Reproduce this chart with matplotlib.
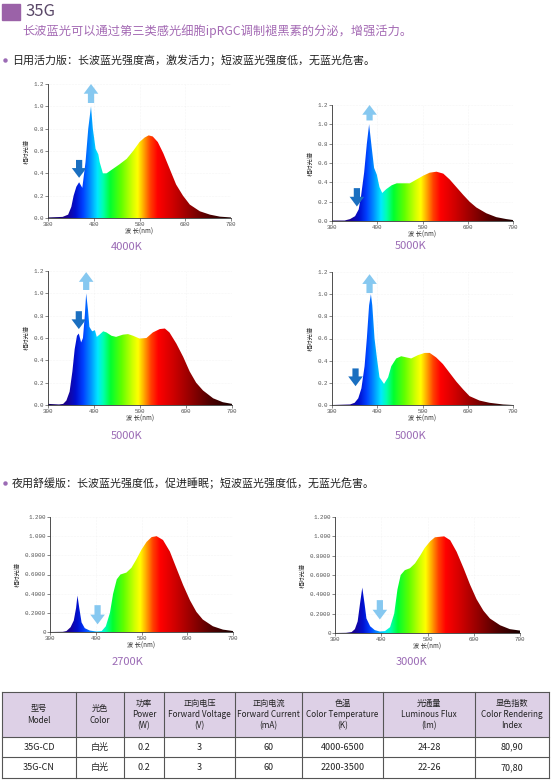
import numpy as np
import matplotlib
matplotlib.use("Agg")
import matplotlib.pyplot as plt
from matplotlib.colors import LinearSegmentedColormap
from matplotlib.patches import Polygon, Rectangle, FancyArrowPatch, ArrowStyle

plt.rcParams['font.family'] = ['Noto Sans CJK SC', 'DejaVu Sans']

# ---- spectra (wavelength nm, relative intensity) ----
wl_4000 = [380, 412, 424, 431, 436, 442, 448, 455, 462, 468, 474, 478, 484, 490, 493, 500,
           508, 522, 536, 552, 566, 580, 591, 600, 609, 620, 632, 646, 660, 675, 690, 712,
           734, 756, 780]
sp_4000 = [0.005, 0.01, 0.03, 0.10, 0.20, 0.28, 0.32, 0.27, 0.50, 0.80, 1.00, 0.80, 0.62,
           0.57, 0.50, 0.40, 0.40, 0.44, 0.48, 0.53, 0.60, 0.68, 0.72, 0.74, 0.73, 0.68, 0.58,
           0.44, 0.30, 0.20, 0.12, 0.06, 0.03, 0.012, 0.005]

wl_5000a = [300, 328, 340, 351, 359, 364, 371, 377, 382, 388, 393, 399, 405, 411, 420, 432,
            443, 458, 472, 487, 502, 516, 531, 546, 560, 575, 590, 604, 619, 641, 663, 685, 700]
sp_5000a = [0.005, 0.005, 0.02, 0.05, 0.12, 0.25, 0.50, 0.80, 1.00, 0.75, 0.55, 0.48, 0.35,
            0.29, 0.33, 0.37, 0.39, 0.39, 0.39, 0.43, 0.47, 0.50, 0.51, 0.49, 0.43, 0.35, 0.27,
            0.20, 0.14, 0.08, 0.04, 0.02, 0.01]

wl_5000b = [300, 324, 333, 340, 347, 353, 358, 363, 367, 372, 376, 380, 383, 387, 390, 396,
            402, 406, 412, 420, 427, 438, 448, 463, 474, 485, 499, 514, 528, 543, 554, 564,
            579, 594, 608, 622, 637, 659, 680, 700]
sp_5000b = [0.01, 0.005, 0.01, 0.04, 0.12, 0.30, 0.50, 0.62, 0.64, 0.56, 0.60, 0.80, 1.00,
            0.85, 0.70, 0.66, 0.67, 0.61, 0.63, 0.66, 0.65, 0.62, 0.61, 0.63, 0.635, 0.62,
            0.595, 0.60, 0.65, 0.68, 0.685, 0.65, 0.55, 0.43, 0.30, 0.20, 0.13, 0.06, 0.025, 0.01]

wl_5000c = [300, 340, 350, 358, 365, 372, 377, 382, 386, 389, 394, 400, 405, 415, 424, 431,
            442, 453, 464, 475, 490, 505, 516, 530, 545, 560, 575, 590, 604, 626, 648, 678, 700]
sp_5000c = [0.0, 0.005, 0.02, 0.06, 0.15, 0.35, 0.60, 0.90, 1.00, 0.90, 0.60, 0.40, 0.25,
            0.19, 0.25, 0.35, 0.42, 0.44, 0.43, 0.42, 0.45, 0.47, 0.47, 0.43, 0.37, 0.29, 0.21,
            0.14, 0.08, 0.04, 0.02, 0.005, 0.0]

wl_2700 = [300, 328, 336, 345, 352, 357, 360, 364, 369, 376, 387, 402, 413, 422, 431, 438,
           446, 454, 467, 478, 489, 500, 511, 522, 533, 547, 562, 576, 591, 606, 620, 634,
           656, 678, 700]
sp_2700 = [0.0, 0.002, 0.01, 0.05, 0.12, 0.25, 0.38, 0.25, 0.10, 0.04, 0.015, 0.005, 0.01,
           0.06, 0.20, 0.40, 0.55, 0.60, 0.62, 0.67, 0.76, 0.86, 0.94, 0.99, 1.00, 0.96, 0.84,
           0.67, 0.49, 0.33, 0.21, 0.13, 0.06, 0.025, 0.01]

wl_3000 = [300, 324, 336, 343, 349, 354, 359, 364, 368, 376, 386, 397, 408, 419, 428, 435,
           442, 451, 462, 473, 484, 494, 506, 516, 536, 549, 563, 578, 592, 606, 621, 635,
           657, 678, 700]
sp_3000 = [0.0, 0.002, 0.01, 0.04, 0.12, 0.30, 0.47, 0.30, 0.15, 0.07, 0.03, 0.015, 0.02,
           0.06, 0.20, 0.45, 0.60, 0.65, 0.67, 0.72, 0.80, 0.88, 0.95, 0.99, 1.00, 0.96, 0.84,
           0.67, 0.50, 0.35, 0.23, 0.15, 0.08, 0.04, 0.025]

cct_labels = ["4000K", "5000K", "5000K", "5000K", "2700K", "3000K"]
xticks_day1 = [380, 480, 580, 680, 780]
xticks_std = [300, 400, 500, 600, 700]
yticks = [0.0, 0.2, 0.4, 0.6, 0.8, 1.0, 1.2]
ytick_day = ["0.0", "0.2", "0.4", "0.6", "0.8", "1.0", "1.2"]
ytick_night = ["0", "0.2000", "0.4000", "0.6000", "0.8000", "1.000", "1.200"]

# table
col_heads = ["型号\nModel", "光色\nColor", "功率\nPower\n(W)", "正向电压\nForward Voltage\n(V)",
             "正向电流\nForward Current\n(mA)", "色温\nColor Temperature\n(K)",
             "光通量\nLuminous Flux\n(lm)", "显色指数\nColor Rendering\nIndex"]
row_cd = ["35G-CD", "白光", "0.2", "3", "60", "4000-6500", "24-28", "80,90"]
row_cn = ["35G-CN", "白光", "0.2", "3", "60", "2200-3500", "22-26", "70,80"]

W, H = 553, 781
fig = plt.figure(figsize=(W / 100, H / 100), dpi=100)

# full-figure overlay in pixel coordinates for header text and table
ov = fig.add_axes([0, 0, 1, 1])
ov.set_xlim(0, W)
ov.set_ylim(H, 0)
ov.axis("off")

purple = "#9b6bb5"
ov.add_patch(Rectangle((2, 4), 18, 16, color="#9b62a8"))
ov.text(25, 12, "35G", fontsize=12, color="#5a4868", va="center", ha="left")
ov.text(22, 31, "长波蓝光可以通过第三类感光细胞ipRGC调制褪黑素的分泌，增强活力。",
        fontsize=8.8, color="#a46ab4", va="center", ha="left")
for yb, txt in [(60, "日用活力版：长波蓝光强度高，激发活力；短波蓝光强度低，无蓝光危害。"),
                (483, "夜用舒缓版：长波蓝光强度低，促进睡眠；短波蓝光强度低，无蓝光危害。")]:
    ov.plot([5], [yb], "o", ms=3.2, color=purple, mec="none")
    ov.text(12, yb, txt, fontsize=7.9, color="#222222", va="center", ha="left")

spec_cmap = LinearSegmentedColormap.from_list("spec", [
    (0.00, "#14005a"), (0.10, "#1a0090"), (0.15, "#0010d0"), (0.19, "#0040ff"),
    (0.23, "#0090ff"), (0.27, "#00e8ff"), (0.30, "#00ffb0"), (0.34, "#00ff30"),
    (0.40, "#60ff00"), (0.46, "#d0ff00"), (0.49, "#ffff00"), (0.52, "#ffb000"),
    (0.56, "#ff4000"), (0.60, "#ff0000"), (0.68, "#d00000"), (0.78, "#900000"),
    (0.88, "#500000"), (1.00, "#1a0000")])
grad = np.linspace(0, 1, 512).reshape(1, -1)

dark_arrow = "#1a6fc0"
light_arrow = "#86c8f0"

# (left, right, top, bottom) in pixels
boxes = [(48, 231, 84, 218), (332, 513, 105, 221), (48, 232, 271, 405),
         (332, 513, 272, 405), (50, 233, 517, 632), (335, 520, 517, 633)]
label_pos = [(127, 247), (411, 246), (127, 436), (411, 436), (127, 662), (412, 662)]
spectra = [(wl_4000, sp_4000), (wl_5000a, sp_5000a), (wl_5000b, sp_5000b),
           (wl_5000c, sp_5000c), (wl_2700, sp_2700), (wl_3000, sp_3000)]
arrows = [
    [(448, 0.52, 0.36, dark_arrow), (474, 1.03, 1.20, light_arrow)],
    [(355, 0.34, 0.15, dark_arrow), (383, 1.04, 1.20, light_arrow)],
    [(367, 0.84, 0.68, dark_arrow), (383, 1.03, 1.19, light_arrow)],
    [(352, 0.33, 0.17, dark_arrow), (383, 1.01, 1.18, light_arrow)],
    [(404, 0.28, 0.08, light_arrow)],
    [(397, 0.34, 0.14, light_arrow)],
]

for i, ((l, r, t, b), (wl, sp)) in enumerate(zip(boxes, spectra)):
    ax = fig.add_axes([l / W, 1 - b / H, (r - l) / W, (b - t) / H])
    xt = xticks_day1 if i == 0 else xticks_std
    x0, x1 = xt[0], xt[-1]
    ax.set_xlim(x0, x1)
    ax.set_ylim(0, 1.2)
    wl = np.array(wl, float)
    sp = np.array(sp, float)
    verts = np.column_stack([np.r_[wl, wl[::-1]], np.r_[sp, np.zeros_like(sp)]])
    poly = Polygon(verts, closed=True, facecolor="none", edgecolor="none")
    ax.add_patch(poly)
    im = ax.imshow(grad, extent=[x0, x1, 0, 1.2], aspect="auto", cmap=spec_cmap,
                   origin="lower", interpolation="bilinear", zorder=2)
    im.set_clip_path(poly)

    for (xa, ys, ye, c) in arrows[i]:
        ar = FancyArrowPatch((xa, ys), (xa, ye),
                             arrowstyle=ArrowStyle.Simple(head_length=0.5, head_width=0.75,
                                                          tail_width=0.32),
                             mutation_scale=14, color=c, lw=0, zorder=4,
                             shrinkA=0, shrinkB=0)
        ax.add_patch(ar)

    ax.set_xticks(xt)
    ax.set_xticklabels([str(v) for v in xt])
    ax.set_yticks(yticks)
    ax.set_yticklabels(ytick_night if i >= 4 else ytick_day)
    for lab in ax.get_xticklabels() + ax.get_yticklabels():
        lab.set_family(["Liberation Mono", "DejaVu Sans Mono"])
        lab.set_fontsize(4.2)
        lab.set_color("#555555")
    ax.tick_params(length=2, width=0.5, pad=1, colors="#555555")
    for s in ["top", "right"]:
        ax.spines[s].set_visible(False)
    for s in ["left", "bottom"]:
        ax.spines[s].set_linewidth(0.6)
        ax.spines[s].set_color("#333333")
    ax.grid(True, color="#ececec", lw=0.4, ls=":")
    ax.set_axisbelow(True)
    ax.set_ylabel("相对光谱", fontsize=4.5, color="#333333", labelpad=2)
    ax.set_xlabel("波 长(nm)", fontsize=4.5, color="#333333", labelpad=0.5)
    ax.patch.set_alpha(0)

    lx, ly = label_pos[i]
    ov.text(lx, ly, cct_labels[i], fontsize=8, color=purple, ha="center", va="center")

# ---- table ----
col_x = [2, 76, 124, 164, 235, 302, 383, 475, 549]
row_y = [692, 737, 757, 778]
ov.add_patch(Rectangle((col_x[0], row_y[0]), col_x[-1] - col_x[0], row_y[1] - row_y[0],
                       facecolor="#ddd0e6", edgecolor="none"))
for yy in row_y:
    ov.plot([col_x[0], col_x[-1]], [yy, yy], color="#555555", lw=0.8)
for xx in col_x:
    ov.plot([xx, xx], [row_y[0], row_y[-1]], color="#555555", lw=0.8)
for j in range(len(col_heads)):
    cx = (col_x[j] + col_x[j + 1]) / 2
    ov.text(cx, (row_y[0] + row_y[1]) / 2, col_heads[j], fontsize=5.9, color="#222222",
            ha="center", va="center", linespacing=1.3)
    ov.text(cx, (row_y[1] + row_y[2]) / 2, row_cd[j], fontsize=6.5, color="#222222",
            ha="center", va="center")
    ov.text(cx, (row_y[2] + row_y[3]) / 2, row_cn[j], fontsize=6.5, color="#222222",
            ha="center", va="center")

fig.savefig("out.png", dpi=100)
